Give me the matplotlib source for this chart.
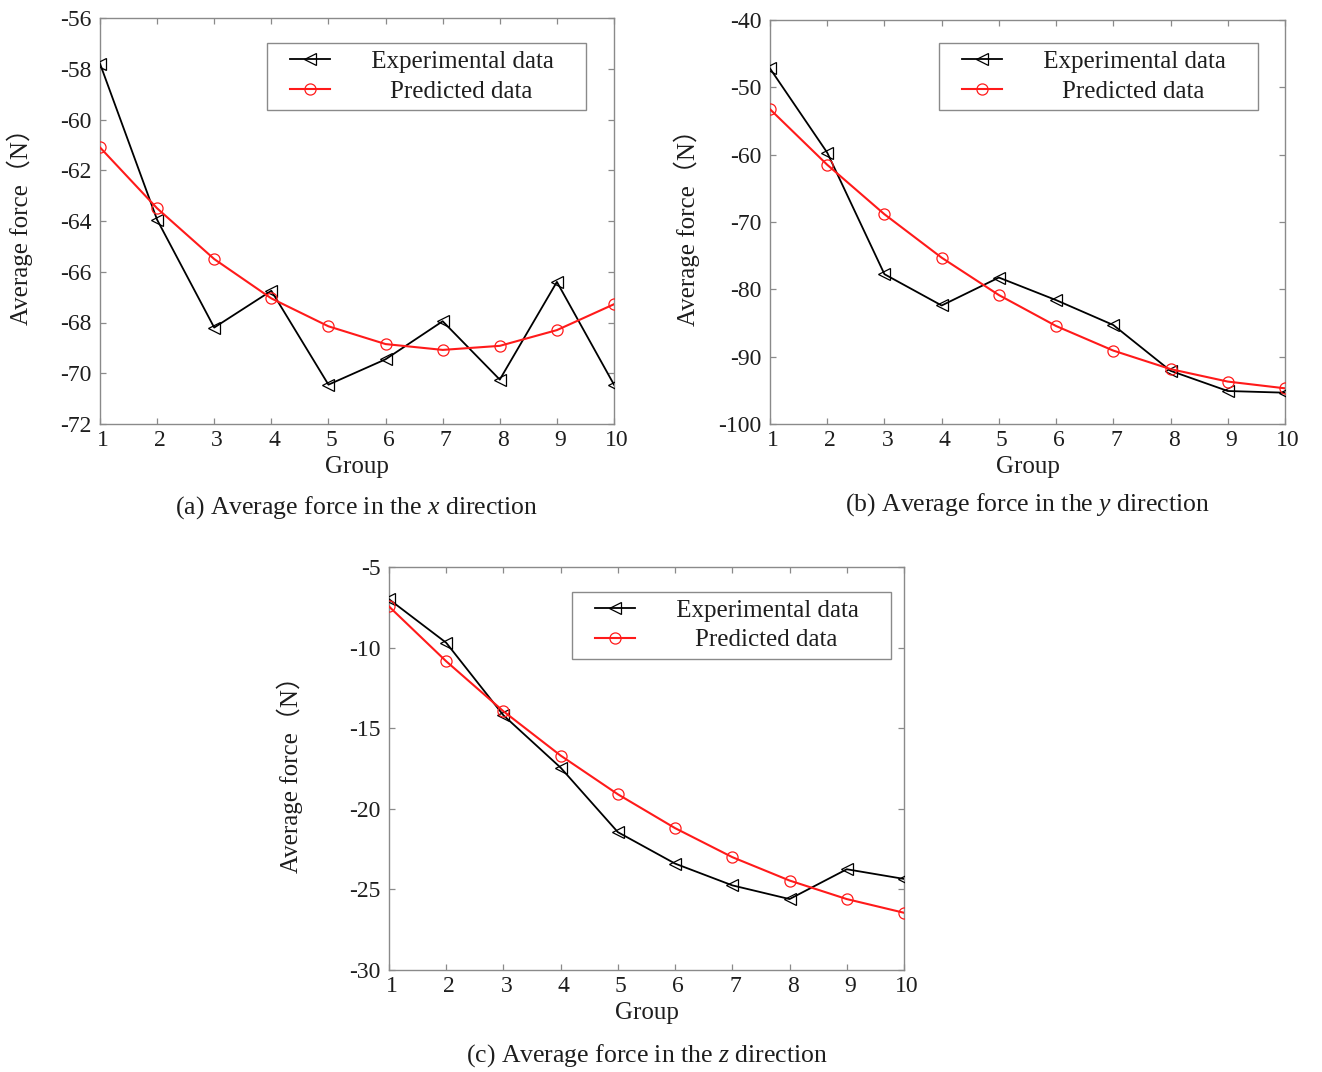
import matplotlib
matplotlib.use("Agg")
import matplotlib.pyplot as plt
from matplotlib.lines import Line2D
from matplotlib.legend_handler import HandlerLine2D
from matplotlib.transforms import ScaledTranslation

plt.rcParams['font.family'] = ['Liberation Serif', 'Noto Sans CJK SC', 'DejaVu Sans']
plt.rcParams['mathtext.fontset'] = 'custom'
plt.rcParams['mathtext.rm'] = 'Liberation Serif'
plt.rcParams['mathtext.it'] = 'Liberation Serif:italic'
plt.rcParams['axes.unicode_minus'] = False

groups = [1, 2, 3, 4, 5, 6, 7, 8, 9, 10]

exp_x = [-57.8, -63.95, -68.2, -66.75, -70.45, -69.45, -67.95, -70.25, -66.4, -70.45]
pred_x = [-61.1, -63.5, -65.5, -67.05, -68.15, -68.85, -69.08, -68.92, -68.3, -67.28]

exp_y = [-47.2, -59.7, -77.75, -82.4, -78.25, -81.6, -85.3, -92.1, -95.1, -95.35]
pred_y = [-53.25, -61.5, -68.85, -75.3, -80.85, -85.45, -89.1, -91.85, -93.7, -94.7]

exp_z = [-7.0, -9.7, -14.2, -17.45, -21.45, -23.4, -24.75, -25.6, -23.75, -24.35]
pred_z = [-7.45, -10.85, -13.95, -16.7, -19.1, -21.2, -23.0, -24.45, -25.6, -26.45]

yticks_x = [-72, -70, -68, -66, -64, -62, -60, -58, -56]
yticks_y = [-100, -90, -80, -70, -60, -50, -40]
yticks_z = [-30, -25, -20, -15, -10, -5]

legend_labels = [' Experimental data    ', '    Predicted data']
captions = ["(a) Average force in the $x$ direction",
            "(b) Average force in the $y$ direction",
            "(c) Average force in the $z$ direction"]

W, H = 1322, 1072
DPI = 100
fig = plt.figure(figsize=(W / DPI, H / DPI), dpi=DPI)


class ShiftHandler(HandlerLine2D):
    """Line handle drawn only in the right part of the handle box."""
    def __init__(self, shift_pt, **kw):
        super().__init__(**kw)
        self.shift_pt = shift_pt

    def create_artists(self, legend, orig_handle, xdescent, ydescent,
                       width, height, fontsize, trans):
        s = self.shift_pt
        return super().create_artists(legend, orig_handle, xdescent - s,
                                      ydescent, width - s, height,
                                      fontsize, trans)


def px_axes(l, t, r, b):
    return fig.add_axes([l / W, 1 - b / H, (r - l) / W, (b - t) / H])


panels = [
    (px_axes(100, 18, 614, 424), exp_x, pred_x, yticks_x, (586, 43), captions[0], 508, 20),
    (px_axes(770, 20, 1285, 424), exp_y, pred_y, yticks_y, (1258, 43), captions[1], 505, 687),
    (px_axes(389, 567, 904, 970), exp_z, pred_z, yticks_z, (891, 592), captions[2], 1056, 290),
]

spine_col = '#8a8a8a'
txt_col = '#1e1e1e'
fs_leg = 18
for ax, e, p, yt, leg_tr, cap, cap_y, ylab_x in panels:
    ax.plot(groups, e, color='black', lw=1.3, marker='<', ms=8, mfc='none',
            mec='black', mew=0.9, label=legend_labels[0], zorder=3)
    ax.plot(groups, p, color='#ff1a1a', lw=1.5, marker='o', ms=8, mfc='none',
            mec='#ff1a1a', mew=0.9, label=legend_labels[1], zorder=3)
    ax.set_xlim(1, 10)
    ax.set_ylim(yt[0], yt[-1])
    ax.set_xticks(groups)
    ax.set_xticklabels([str(g) for g in groups])
    ax.set_yticks(yt)
    ax.set_yticklabels([str(v) for v in yt])
    ax.tick_params(direction='in', length=4, width=0.9, color=spine_col,
                   top=True, right=True, labelsize=17, labelcolor=txt_col)
    ax.tick_params(axis='x', pad=4)
    ax.tick_params(axis='y', pad=6)
    off = ScaledTranslation(3 / DPI, 0, fig.dpi_scale_trans)
    for lbl in ax.get_xticklabels():
        lbl.set_transform(lbl.get_transform() + off)
    for s in ax.spines.values():
        s.set_color(spine_col)
        s.set_linewidth(1.0)
    ax.set_xlabel('Group', fontsize=18, labelpad=4, color=txt_col)
    ax.set_ylabel('Average force（N）', fontsize=18, color=txt_col)
    bb = ax.get_position()
    x0_px = bb.x0 * W
    w_px = bb.width * W
    ax.yaxis.set_label_coords((ylab_x - x0_px) / w_px, 0.5)
    ax.yaxis.label.set_va('center')

    bx = leg_tr[0] / W
    by = 1 - leg_tr[1] / H
    pad_px = 0.3 * fs_leg * DPI / 72
    shift_px = 23 - pad_px
    hl_px = 63 - pad_px
    leg = ax.legend(loc='upper right', bbox_to_anchor=(bx, by),
                    bbox_transform=fig.transFigure, borderaxespad=0,
                    fontsize=fs_leg,
                    handlelength=hl_px / (fs_leg * DPI / 72),
                    handletextpad=35 / (fs_leg * DPI / 72),
                    labelspacing=0.28, borderpad=0.3, fancybox=False,
                    framealpha=1, edgecolor=spine_col,
                    handler_map={Line2D: ShiftHandler(shift_px * 72 / DPI)})
    leg.get_frame().set_linewidth(1.0)
    for t in leg.get_texts():
        t.set_color(txt_col)
    fig.text(bb.x0 + bb.width / 2, 1 - cap_y / H, cap,
             ha='center', va='center', fontsize=18.5, color=txt_col)

fig.savefig('out.png', dpi=DPI, facecolor='white')
